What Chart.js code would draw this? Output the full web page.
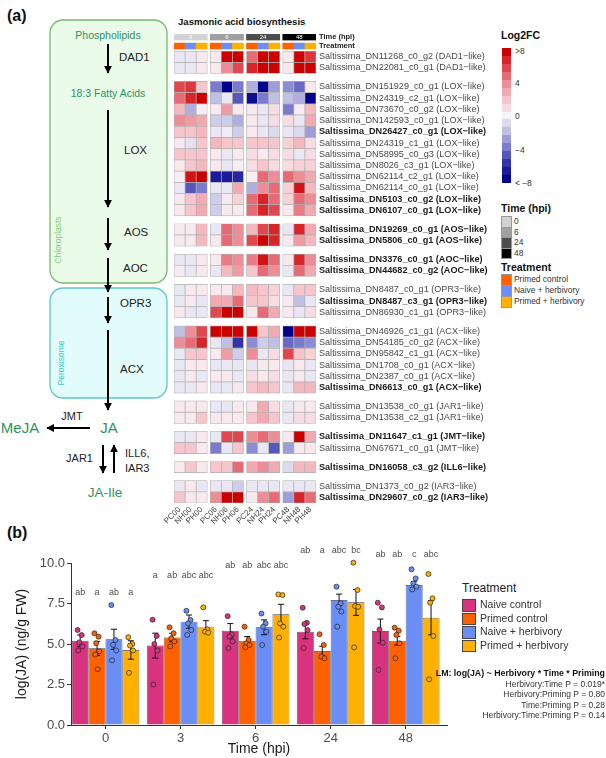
<!DOCTYPE html>
<html>
<head>
<meta charset="utf-8">
<script src="https://cdn.jsdelivr.net/npm/chart.js@4.4.1/dist/chart.umd.min.js"></script>
<style>
  body { margin: 0; background: #fff; }
  #page { position: relative; width: 606px; height: 758px; overflow: hidden; font-family: "Liberation Sans", Arial, sans-serif; color: #222; }
  .abs { position: absolute; white-space: nowrap; }
  canvas { position: absolute; }
</style>
</head>
<body>
<div id="page">
  <!-- schéma de la voie de biosynthèse -->
  <svg width="606" height="758" style="position:absolute;left:0;top:0" font-family="Liberation Sans, Arial, sans-serif">
    <defs>
      <marker id="ah" viewBox="0 0 10 10" refX="9" refY="5" markerWidth="4" markerHeight="4" orient="auto">
        <path d="M0,0 L10,5 L0,10 z" fill="#000"/>
      </marker>
    </defs>
    <text x="7" y="21" font-size="16" font-weight="bold" fill="#111">(a)</text>
    <text x="7" y="538" font-size="16" font-weight="bold" fill="#111">(b)</text>
    <rect x="50" y="20" width="117" height="263" rx="13" fill="#ebfbea" stroke="#78b971" stroke-width="1.3"/>
    <rect x="50" y="288" width="117" height="110" rx="13" fill="#e2fbfb" stroke="#5ec7c9" stroke-width="1.3"/>
    <text transform="translate(61,240) rotate(-90)" text-anchor="middle" font-size="8.5" fill="#7fcf78">Chloroplasts</text>
    <text transform="translate(64,363) rotate(-90)" text-anchor="middle" font-size="8.5" fill="#45c6c8">Peroxisome</text>
    <g fill="#2f9160" text-anchor="middle">
      <text x="108" y="39" font-size="10.5">Phospholipids</text>
      <text x="108" y="97" font-size="10.5">18:3 Fatty Acids</text>
      <text x="109" y="433" font-size="15">JA</text>
      <text x="20" y="433" font-size="15">MeJA</text>
      <text x="105" y="497" font-size="13.5">JA-Ile</text>
    </g>
    <g fill="#222" font-size="11.5">
      <text x="119" y="61">DAD1</text>
      <text x="124" y="154">LOX</text>
      <text x="124" y="236">AOS</text>
      <text x="123" y="272">AOC</text>
      <text x="120" y="307">OPR3</text>
      <text x="120" y="373">ACX</text>
    </g>
    <g fill="#222" font-size="11">
      <text x="72" y="420" text-anchor="middle">JMT</text>
      <text x="93" y="462" text-anchor="end">JAR1</text>
      <text x="125" y="457">ILL6,</text>
      <text x="125" y="472">IAR3</text>
    </g>
    <g stroke="#000" stroke-width="2" marker-end="url(#ah)">
      <line x1="108" y1="44" x2="108" y2="73"/>
      <line x1="108" y1="110" x2="108" y2="207"/>
      <line x1="108" y1="218" x2="108" y2="250"/>
      <line x1="108" y1="258" x2="108" y2="292"/>
      <line x1="108" y1="297" x2="108" y2="323"/>
      <line x1="108" y1="330" x2="108" y2="410"/>
      <line x1="90" y1="428" x2="47" y2="428"/>
      <line x1="103" y1="445" x2="103" y2="473"/>
      <line x1="114" y1="473" x2="114" y2="445"/>
    </g>
  </svg>

  <div class="abs" style="left:178px;top:16px;font-size:9.6px;font-weight:bold;color:#111">Jasmonic acid biosynthesis</div>
  <canvas id="heatmap" width="350" height="507" style="left:150px;top:28px"></canvas>

  <!-- légende de la heatmap -->
  <div class="abs" style="left:501px;top:29px;font-size:10.5px;font-weight:bold;color:#111">Log2FC</div>
  <div id="colorbar" class="abs" style="left:502px;top:48px;width:9px;height:135px"></div>
  <div id="colorbarLabels"></div>
  <div class="abs" style="left:501px;top:202px;font-size:10.5px;font-weight:bold;color:#111">Time (hpi)</div>
  <div id="timeLegend"></div>
  <div class="abs" style="left:501px;top:261px;font-size:10.5px;font-weight:bold;color:#111">Treatment</div>
  <div id="trtLegend"></div>

  <canvas id="barchart" width="455" height="218" style="left:0px;top:540px"></canvas>

  <!-- légende du graphique (b) -->
  <div class="abs" style="left:462px;top:581px;font-size:12px;color:#222">Treatment</div>
  <div id="barLegend"></div>
  <div class="abs" style="right:1px;top:668px;font-size:8.8px;font-weight:bold;color:#111">LM: log(JA) ~ Herbivory * Time * Priming</div>
  <div id="stats"></div>
</div>

<script>
/* Données de la heatmap */
var groupNames = ['DAD1', 'LOX', 'AOS', 'AOC', 'OPR3', 'ACX', 'JAR1', 'JMT', 'ILL6', 'IAR3'];
var groupSizes = [2, 12, 2, 2, 3, 6, 2, 2, 1, 2];
var geneLabels = [
    'Saltissima_DN11268_c0_g2 (DAD1\u2212like)',
    'Saltissima_DN22081_c0_g1 (DAD1\u2212like)',
    'Saltissima_DN151929_c0_g1 (LOX\u2212like)',
    'Saltissima_DN24319_c2_g1 (LOX\u2212like)',
    'Saltissima_DN73670_c0_g2 (LOX\u2212like)',
    'Saltissima_DN142593_c0_g1 (LOX\u2212like)',
    'Saltissima_DN26427_c0_g1 (LOX\u2212like)',
    'Saltissima_DN24319_c1_g1 (LOX\u2212like)',
    'Saltissima_DN58995_c0_g3 (LOX\u2212like)',
    'Saltissima_DN8026_c3_g1 (LOX\u2212like)',
    'Saltissima_DN62114_c2_g1 (LOX\u2212like)',
    'Saltissima_DN62114_c0_g1 (LOX\u2212like)',
    'Saltissima_DN5103_c0_g2 (LOX\u2212like)',
    'Saltissima_DN6107_c0_g1 (LOX\u2212like)',
    'Saltissima_DN19269_c0_g1 (AOS\u2212like)',
    'Saltissima_DN5806_c0_g1 (AOS\u2212like)',
    'Saltissima_DN3376_c0_g1 (AOC\u2212like)',
    'Saltissima_DN44682_c0_g2 (AOC\u2212like)',
    'Saltissima_DN8487_c0_g1 (OPR3\u2212like)',
    'Saltissima_DN8487_c3_g1 (OPR3\u2212like)',
    'Saltissima_DN86930_c1_g1 (OPR3\u2212like)',
    'Saltissima_DN46926_c1_g1 (ACX\u2212like)',
    'Saltissima_DN54185_c0_g2 (ACX\u2212like)',
    'Saltissima_DN95842_c1_g1 (ACX\u2212like)',
    'Saltissima_DN1708_c0_g1 (ACX\u2212like)',
    'Saltissima_DN2387_c0_g1 (ACX\u2212like)',
    'Saltissima_DN6613_c0_g1 (ACX\u2212like)',
    'Saltissima_DN13538_c0_g1 (JAR1\u2212like)',
    'Saltissima_DN13538_c2_g1 (JAR1\u2212like)',
    'Saltissima_DN11647_c1_g1 (JMT\u2212like)',
    'Saltissima_DN67671_c0_g1 (JMT\u2212like)',
    'Saltissima_DN16058_c3_g2 (ILL6\u2212like)',
    'Saltissima_DN1373_c0_g2 (IAR3\u2212like)',
    'Saltissima_DN29607_c0_g2 (IAR3\u2212like)'
];
var boldGenes = ['DN26427_c0_g1', 'DN5103_c0_g2', 'DN6107_c0_g1', 'DN19269_c0_g1', 'DN5806_c0_g1',
    'DN3376_c0_g1', 'DN44682_c0_g2', 'DN8487_c3_g1', 'DN6613_c0_g1', 'DN11647_c1_g1',
    'DN16058_c3_g2', 'DN29607_c0_g2'];
var sampleLabels = ['PC00', 'NH00', 'PH00', 'PC06', 'NH06', 'PH06', 'PC24', 'NH24', 'PH24', 'PC48', 'NH48', 'PH48'];
var timeLabels = ['0', '6', '24', '48'];
var heatTreatments = ['Primed control', 'Naive + herbivory', 'Primed + herbivory'];

// log2FC : colonnes PC00 NH00 PH00 | PC06 NH06 PH06 | PC24 NH24 PH24 | PC48 NH48 PH48
var log2fc = [
    [-0.5, -0.5, 0.5,  0.5, 8, 8,      5, 8, 8,         0.5, 8, 6.5],
    [-0.5, -0.5, 0.5,  0.5, 4, 6,      7, 8, 8,         0.5, 8, 8],
    [6, 6.5, 2,        -4, -8, -4,     -2.5, -8, -3,    -3.5, -4.5, 0.5],
    [5, 7, 8,          -2, -0.5, -5,   -7.5, -4, -2,    -2, -2.5, -8],
    [2.5, -2.5, 0.3,   0.5, 3.5, 0.5,  0.5, -0.5, 1,    -4, 0.3, 2.5],
    [4, 3.5, 3,        -1.5, -1.5, -2.5, 0.5, -0.5, 1,  1, -0.5, 3],
    [2, 2, 2.5,        -0.5, -0.3, -1.5, 0.5, -0.5, -1, -0.5, -1, -3],
    [0.5, -0.7, 2,     2.5, 2, 2,      2, 2, 2,         1.5, 2.5, 1],
    [2, 2, 2,          0.5, -0.5, 0.5, 1, 0.5, 1,       1, -0.5, 1],
    [0.5, 2, 2.5,      0.5, -0.5, 0.3, 1, 2, 1,         1, 1.5, 1.5],
    [0.3, 7.5, 8,      -7, -7, -6.5,   0.3, 5, 4,       5, 4, 3],
    [-0.5, -5, -4,     -0.5, -0.5, 3,  -2.5, 4, 5,      1.5, 7.5, 2.5],
    [0.5, 2, 3,        -1.5, 0.5, 1.5, 5, 7, 5,         1.5, 5, 4],
    [0.5, 2, 3,        -1.5, 0.5, 0.5, 5, 7, 6,         0.5, 4.5, 3],
    [0.5, 0.5, 2.5,    -0.5, 5, 4,     2.5, 6, 7,       -0.5, 7, 3],
    [0.5, 0.5, 2.5,    0.5, 5, 4,      6, 8, 7,         0.5, 3.5, 2.5],
    [-0.5, -0.5, 0.5,  0.5, 4.5, 4,    4.5, 7.5, 5,     0.5, 7, 4],
    [0.5, -0.5, 0.5,   -0.5, 2.5, 3.5, 2, 5, 4,         -0.5, 5, 3],
    [-0.5, 0.5, 0.5,   0.5, 0.5, 2.5,  2.5, 2, 1.5,     -0.5, 2, 2],
    [-0.5, 0.5, -0.5,  3, 3, 5,        2, 2, 1,         0.5, -2, -0.5],
    [0.5, -0.5, -0.5,  6, 8, 8,        0.5, 5, 3,       0.5, -0.5, 1],
    [-2, 4, 6,         8, 8, 8,        8, 2, 3,         -8, 8, 8],
    [4, 5, 7,          -0.5, -2, -6,   -3.5, -1.5, -2,  -4.5, -4, -3.5],
    [-0.5, 2, 2,       0.5, 3.5, -1.5, 4, -0.5, 1,      6, 2, 1.5],
    [-0.5, 0.5, 0.5,   -0.5, -0.5, -0.5, -0.5, 0.5, 0.5, -0.5, 0.5, -0.5],
    [-0.5, 0.5, -0.5,  0.5, 0.5, -0.5, 1, 0.5, 1,       -0.5, 0.5, -0.5],
    [-0.5, -0.5, 0.5,  -0.5, -0.5, 0.5, 2, 2.5, 2,      -0.5, 2.5, 2.5],
    [0.5, 0.5, 0.5,    -0.5, -0.5, 0.5, 0.5, 3, 1,      -0.5, 0.5, 0.5],
    [0.5, 0.5, 2,      0.5, 0.5, 0.5,  2, 3, 2,         -0.5, 1, 1],
    [-0.5, -0.5, 0.5,  -0.5, 6, 6,     4, 5, 4,         0.5, 8, 3],
    [2, 2, 0.5,        -4, -0.5, 2,    -3.5, -0.5, -5,  -3, 0.5, 0.5],
    [0.5, 2, 0.5,      2, 2, 5,        3, 4, 3,         -1, 2.5, 2.5],
    [-0.5, 0.5, -0.5,  -0.5, -0.5, -1.5, -0.5, -0.5, -0.5, -0.5, -0.5, -0.5],
    [2, 0.5, 0.5,      4, 8, 8,        0.5, 4, 5,       -3, 7, 5]
];

/* Données du graphique (b) */
var timeCats = ['0', '3', '6', '24', '48'];
var treatments = ['Naive control', 'Primed control', 'Naive + herbivory', 'Primed + herbivory'];
var meanJA = [
    [5.2, 4.9, 5.82, 5.76, 5.8],
    [4.73, 5.4, 5.2, 4.57, 5.2],
    [5.29, 6.38, 6.03, 7.72, 8.64],
    [4.63, 6.07, 6.83, 7.57, 6.62]
];
var seJA = [
    [0.36, 0.77, 0.44, 0.44, 0.74],
    [0.43, 0.26, 0.26, 0.29, 0.26],
    [0.62, 0.41, 0.46, 0.36, 0.2],
    [0.57, 0.37, 0.62, 0.8, 1.05]
];
var letters = [
    ['ab', 'a', 'ab', 'ab', 'ab'],
    ['a', 'ab', 'ab', 'a', 'ab'],
    ['ab', 'abc', 'abc', 'abc', 'c'],
    ['a', 'abc', 'abc', 'bc', 'abc']
];
var letterHeights = [8.17, 9.2, 9.86, 10.76, 10.5];
var pointsJA = [
    [[5.86, 5.55, 5.1, 4.85, 4.6], [6.5, 5.5, 5.0, 4.6, 2.5], [6.72, 5.6, 5.46, 5.16, 4.75], [7.24, 6.31, 6.23, 5.86, 4.75], [7.55, 7.26, 5.9, 5.08, 3.4]],
    [[5.66, 5.45, 5.05, 4.55, 4.35, 3.44], [6.03, 5.66, 5.35, 5.16, 4.85], [6.07, 5.25, 5.04, 4.94, 4.8], [5.6, 4.94, 4.22, 4.12], [6.01, 5.82, 5.56, 5.04, 4.12]],
    [[7.4, 5.25, 4.95, 4.6, 4.0], [7.05, 6.48, 6.27, 5.86, 5.56], [6.88, 6.27, 6.07, 5.76, 4.94], [8.54, 7.51, 7.3, 7.0, 6.07], [9.61, 9.05, 8.74, 8.54, 8.37]],
    [[5.42, 5.0, 4.9, 4.6, 3.22], [7.26, 5.9, 5.76, 5.7], [8.06, 8.02, 6.27, 6.07, 5.4], [10.02, 8.33, 7.34, 7.3, 4.79], [9.32, 7.82, 7.55, 5.49, 2.82]]
];
var statLines = ['Herbivory:Time P = 0.019*', 'Herbivory:Priming P = 0.80', 'Time:Priming P = 0.28', 'Herbivory:Time:Priming P = 0.14'];

/* Styles */
var trtColors = ['#d9327f', '#ff6000', '#6a8df6', '#ffb000'];
var heatTrtColors = ['#ff6000', '#6a8df6', '#ffb000'];
var timeColors = ['#d2d2d2', '#a0a0a0', '#4d4d4d', '#000000'];
var jitter = [-0.035, 0.02, -0.012, 0.03, -0.025, 0.008];

Chart.defaults.font.family = '"Liberation Sans", Arial, sans-serif';

// Échelle de couleurs log2FC
var fcStops = [[-8, [0, 0, 139]], [-6, [52, 52, 168]], [-4, [122, 122, 206]], [-2, [192, 192, 229]],
    [0, [247, 244, 249]], [2, [246, 198, 204]], [4, [236, 141, 151]], [6, [224, 72, 80]], [8, [205, 0, 0]]];
function fcColor(v) {
    v = Math.max(-8, Math.min(8, v));
    for (var i = 0; i < fcStops.length - 1; i++) {
        var a = fcStops[i], b = fcStops[i + 1];
        if (v >= a[0] && v <= b[0]) {
            var t = (v - a[0]) / (b[0] - a[0]);
            var c = a[1].map(function (x, k) { return Math.round(x + (b[1][k] - x) * t); });
            return 'rgb(' + c.join(',') + ')';
        }
    }
    return '#fff';
}

/* Heatmap */
var GROUP_GAP = 0.7, COL_GAP = 0.27;
var rowTops = [];
var r = 0;
groupSizes.forEach(function (n, k) {
    for (var i = 0; i < n; i++) { rowTops.push(r + k * GROUP_GAP); r++; }
});
var yMax = r + (groupSizes.length - 1) * GROUP_GAP;
var colCenters = sampleLabels.map(function (s, j) { return Math.floor(j / 3) * (3 + COL_GAP) + (j % 3) + 0.5; });
var isBold = geneLabels.map(function (g) { return boldGenes.some(function (b) { return g.indexOf('_' + b + ' ') > -1; }); });
var timeRow = [-1.52, -0.98], trtRow = [-0.71, -0.18];

var heatDatasets = log2fc.map(function (row, i) {
    return {
        data: row.map(function (v, j) { return { x: colCenters[j], y: [rowTops[i], rowTops[i] + 1] }; }),
        backgroundColor: row.map(fcColor),
        borderColor: '#b0b0b0',
        borderWidth: 0.7,
        borderSkipped: false
    };
});
heatDatasets.push({
    data: colCenters.map(function (x) { return { x: x, y: timeRow }; }),
    backgroundColor: colCenters.map(function (x, j) { return timeColors[Math.floor(j / 3)]; }),
    borderWidth: 0
});
heatDatasets.push({
    data: colCenters.map(function (x) { return { x: x, y: trtRow }; }),
    backgroundColor: colCenters.map(function (x, j) { return heatTrtColors[j % 3]; }),
    borderWidth: 0
});

var yTickValues = [(timeRow[0] + timeRow[1]) / 2, (trtRow[0] + trtRow[1]) / 2].concat(rowTops.map(function (t) { return t + 0.5; }));
var yTickLabels = ['Time (hpi)', 'Treatment'].concat(geneLabels);

var timeTextPlugin = {
    id: 'timeText',
    afterDatasetsDraw: function (chart) {
        var ctx = chart.ctx, xs = chart.scales.x, ys = chart.scales.y;
        ctx.save();
        ctx.fillStyle = '#fff';
        ctx.font = '6px "Liberation Sans", Arial, sans-serif';
        ctx.textAlign = 'center';
        ctx.textBaseline = 'middle';
        timeLabels.forEach(function (t, g) {
            ctx.fillText(t, xs.getPixelForValue(colCenters[g * 3 + 1]), ys.getPixelForValue((timeRow[0] + timeRow[1]) / 2));
        });
        ctx.restore();
    }
};

new Chart(document.getElementById('heatmap'), {
    type: 'bar',
    data: { datasets: heatDatasets },
    options: {
        responsive: false,
        animation: false,
        devicePixelRatio: 1,
        layout: { padding: { left: 24, top: 6, right: 0, bottom: 0 } },
        datasets: { bar: { grouped: false, barPercentage: 1, categoryPercentage: 1 } },
        plugins: { legend: { display: false }, tooltip: { enabled: false } },
        scales: {
            x: {
                type: 'linear', min: 0, max: 12 + 3 * COL_GAP, offset: false,
                grid: { display: false, drawTicks: false, offset: false },
                border: { display: false },
                afterBuildTicks: function (s) { s.ticks = colCenters.map(function (v) { return { value: v }; }); },
                afterFit: function (s) { s.height = 32; s.paddingLeft = 0; s.paddingRight = 0; },
                ticks: {
                    autoSkip: false, minRotation: 45, maxRotation: 45, padding: 2,
                    font: { size: 8 }, color: '#444',
                    callback: function (v, i) { return sampleLabels[i]; }
                }
            },
            y: {
                type: 'linear', position: 'right', reverse: true, min: timeRow[0], max: yMax,
                grid: { display: false, drawTicks: false, tickLength: 0 },
                border: { display: false },
                afterBuildTicks: function (s) { s.ticks = yTickValues.map(function (v) { return { value: v }; }); },
                afterFit: function (s) { s.width = 184; s.paddingTop = 0; s.paddingBottom = 0; },
                ticks: {
                    autoSkip: false, padding: 3,
                    font: function (c) {
                        if (c.index < 2) return { size: 7.5, weight: 'bold' };
                        return { size: 9.1, weight: isBold[c.index - 2] ? 'bold' : 'normal' };
                    },
                    color: function (c) { return (c.index < 2 || isBold[c.index - 2]) ? '#1a1a1a' : '#4a4a4a'; },
                    callback: function (v, i) { return yTickLabels[i]; }
                }
            }
        }
    },
    plugins: [timeTextPlugin]
});

/* Légendes HTML de la heatmap */
function addDiv(parent, css, text) {
    var d = document.createElement('div');
    d.className = 'abs';
    d.style.cssText = css;
    if (text !== undefined) d.textContent = text;
    document.getElementById(parent).appendChild(d);
    return d;
}
var bar = document.getElementById('colorbar');
for (var v = 8; v >= -8; v--) {
    var band = document.createElement('div');
    band.style.cssText = 'height:' + (135 / 17) + 'px;background:' + fcColor(v);
    bar.appendChild(band);
}
[['>8', 46], ['4', 78], ['0', 111], ['\u22124', 145], ['< \u22128', 178]].forEach(function (l) {
    addDiv('colorbarLabels', 'left:515px;top:' + l[1] + 'px;font-size:8.4px;color:#333', l[0]);
});
timeLabels.forEach(function (t, i) {
    addDiv('timeLegend', 'left:501px;top:' + (216 + i * 10.5) + 'px;width:9px;height:9.5px;border:0.5px solid #999;background:' + timeColors[i]);
    addDiv('timeLegend', 'left:514px;top:' + (216 + i * 10.5) + 'px;font-size:8.4px;color:#333', t);
});
heatTreatments.forEach(function (t, i) {
    addDiv('trtLegend', 'left:501px;top:' + (274 + i * 11) + 'px;width:9px;height:10px;border:0.5px solid #999;background:' + heatTrtColors[i]);
    addDiv('trtLegend', 'left:514px;top:' + (274 + i * 11) + 'px;font-size:8.4px;color:#333', t);
});

/* Graphique (b) : barres + points + erreurs standard */
var barDatasets = treatments.map(function (t, d) {
    return {
        type: 'bar', label: t, order: 2,
        data: meanJA[d].map(function (m, i) { return { x: i, y: m }; }),
        se: seJA[d], letters: letters[d],
        backgroundColor: trtColors[d], borderColor: '#3a3a3a', borderWidth: 0.7,
        barPercentage: 1, categoryPercentage: 0.9
    };
});
var pointDatasets = treatments.map(function (t, d) {
    var pts = [];
    pointsJA[d].forEach(function (vals, i) {
        vals.forEach(function (v, k) { pts.push({ x: i + (d - 1.5) * 0.225 + jitter[k], y: v }); });
    });
    return {
        type: 'scatter', label: t + ' points', order: 1, clip: false,
        data: pts, pointRadius: 2.5,
        pointBackgroundColor: trtColors[d], pointBorderColor: 'rgba(40,40,40,0.9)', pointBorderWidth: 0.8
    };
});

var errorBarsPlugin = {
    id: 'errorBars',
    afterDatasetDraw: function (chart, args) {
        var ds = chart.data.datasets[args.index];
        if (!ds.se) return;
        var ctx = chart.ctx, ys = chart.scales.y;
        ctx.save();
        ctx.strokeStyle = '#111';
        ctx.lineWidth = 1;
        args.meta.data.forEach(function (b, i) {
            var m = ds.data[i].y, s = ds.se[i];
            var top = ys.getPixelForValue(m + s), bot = ys.getPixelForValue(m - s);
            var w = b.width * 0.18;
            ctx.beginPath();
            ctx.moveTo(b.x, top); ctx.lineTo(b.x, bot);
            ctx.moveTo(b.x - w, top); ctx.lineTo(b.x + w, top);
            ctx.moveTo(b.x - w, bot); ctx.lineTo(b.x + w, bot);
            ctx.stroke();
        });
        ctx.restore();
    }
};
var lettersPlugin = {
    id: 'letters',
    afterDraw: function (chart) {
        var ctx = chart.ctx, ys = chart.scales.y;
        ctx.save();
        ctx.fillStyle = '#4d4d4d';
        ctx.font = '9px "Liberation Sans", Arial, sans-serif';
        ctx.textAlign = 'center';
        ctx.textBaseline = 'middle';
        chart.data.datasets.forEach(function (ds, di) {
            if (!ds.letters) return;
            chart.getDatasetMeta(di).data.forEach(function (b, i) {
                ctx.fillText(ds.letters[i], b.x, ys.getPixelForValue(letterHeights[i]));
            });
        });
        ctx.restore();
    }
};

new Chart(document.getElementById('barchart'), {
    type: 'bar',
    data: { datasets: barDatasets.concat(pointDatasets) },
    options: {
        responsive: false,
        animation: false,
        devicePixelRatio: 1,
        layout: { padding: { left: 14, top: 23, right: 8, bottom: 0 } },
        plugins: { legend: { display: false }, tooltip: { enabled: false } },
        scales: {
            x: {
                type: 'linear', min: -0.46, max: 4.55, offset: false,
                grid: { display: true, drawOnChartArea: false, drawTicks: true, tickLength: 4, color: '#333', offset: false },
                border: { display: true, color: '#333', width: 1 },
                afterBuildTicks: function (s) { s.ticks = timeCats.map(function (c, i) { return { value: i }; }); },
                afterFit: function (s) { s.height = 33; },
                ticks: { autoSkip: false, padding: 2, font: { size: 13 }, color: '#4d4d4d', callback: function (v, i) { return timeCats[i]; } },
                title: { display: true, text: 'Time (hpi)', font: { size: 14 }, color: '#1a1a1a', padding: { top: 1, bottom: 0 } }
            },
            y: {
                min: 0, max: 10,
                grid: { display: true, drawOnChartArea: false, drawTicks: true, tickLength: 4, color: '#333' },
                border: { display: true, color: '#333', width: 1 },
                afterFit: function (s) { s.width = 57; },
                ticks: { stepSize: 2.5, padding: 2, font: { size: 13 }, color: '#4d4d4d', callback: function (v) { return v.toFixed(1); } },
                title: { display: true, text: 'log(JA) (ng/g FW)', font: { size: 14 }, color: '#1a1a1a', padding: { top: 0, bottom: 2 } }
            }
        }
    },
    plugins: [errorBarsPlugin, lettersPlugin]
});

/* Légende et statistiques du graphique (b) */
treatments.forEach(function (t, i) {
    addDiv('barLegend', 'left:462px;top:' + (599 + i * 13.6) + 'px;width:14px;height:12.5px;box-sizing:border-box;border:0.8px solid #444;background:' + trtColors[i]);
    addDiv('barLegend', 'left:480px;top:' + (598 + i * 13.6) + 'px;font-size:10.5px;color:#333', t);
});
statLines.forEach(function (s, i) {
    addDiv('stats', 'right:1px;top:' + (679 + i * 10.3) + 'px;font-size:8.5px;color:#333', s);
});
</script>
</body>
</html>
